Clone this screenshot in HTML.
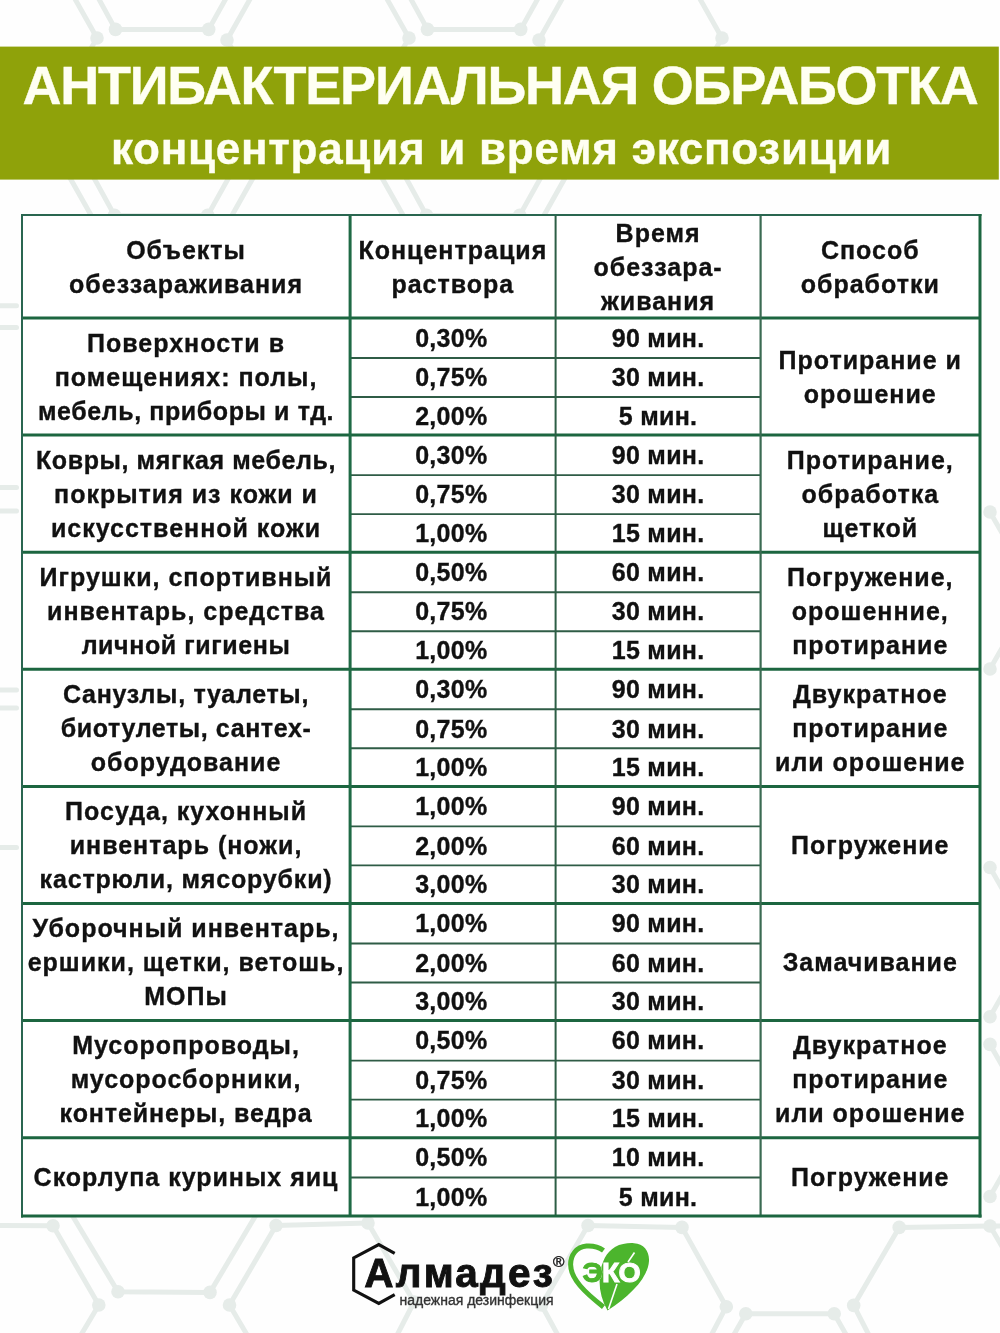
<!DOCTYPE html>
<html lang="ru"><head><meta charset="utf-8"><title>Антибактериальная обработка</title>
<style>
html,body{margin:0;padding:0}
body{width:1000px;height:1333px;position:relative;overflow:hidden;filter:blur(0.4px);background:#fefefe;font-family:"Liberation Sans",Arial,sans-serif}
#bg{position:absolute;left:0;top:0}
.banner{position:absolute;left:0;top:47px;width:999px;height:132px;background:#8fa20a}
.title{position:absolute;left:0;width:1000px;text-align:center;color:#fffff2;-webkit-text-stroke:0.4px #fffff2;font-weight:bold;white-space:nowrap}
.t1{top:56.5px;font-size:54px;line-height:56px;letter-spacing:-1.25px}
.t2{top:123.5px;left:1.5px;font-size:44px;line-height:50px;letter-spacing:0.73px}
.tbl{position:absolute;left:22px;top:215px;width:958px;height:1001px;background:#fff}
.c{position:absolute;display:flex;-webkit-text-stroke:0.35px #111;align-items:center;justify-content:center;text-align:center;font-weight:bold;color:#111;font-size:25px;line-height:34px;box-sizing:border-box}
.t{letter-spacing:1px}
.n{letter-spacing:0.3px}
#grid{position:absolute;left:0;top:0}
.logo{position:absolute;left:0;top:0}
</style></head><body>
<svg id="bg" width="1000" height="1333" viewBox="0 0 1000 1333"><g fill="none" stroke="#e6ece9" stroke-width="5" stroke-linejoin="round" stroke-linecap="round"><polyline points="53.0,-40.0 97.0,38.0 75.0,76.0"/><polyline points="72.0,-50.0 115.5,29.4 208.7,29.4 253.0,-50.0"/><polyline points="272.0,-40.0 227.0,40.0 249.0,78.0"/><polyline points="365.0,-40.0 409.0,38.0 387.0,76.0"/><polyline points="384.0,-50.0 427.5,29.4 520.7,29.4 565.0,-50.0"/><polyline points="584.0,-40.0 539.0,40.0 561.0,78.0"/><polyline points="678.0,-40.0 722.0,38.0 700.0,76.0"/><polyline points="52.0,146.0 96.0,224.0 74.0,262.0"/><polyline points="71.0,136.0 114.5,215.4 207.7,215.4 252.0,136.0"/><polyline points="271.0,146.0 226.0,226.0 248.0,264.0"/><polyline points="364.0,146.0 408.0,224.0 386.0,262.0"/><polyline points="383.0,136.0 426.5,215.4 519.7,215.4 564.0,136.0"/><polyline points="583.0,146.0 538.0,226.0 560.0,264.0"/><polyline points="-5.0,305.7 16.5,305.7"/><polyline points="-5.0,327.5 16.5,327.5"/><polyline points="-5.0,487.5 16.5,487.5"/><polyline points="-5.0,511.0 16.5,511.0"/><polyline points="-5.0,690.0 16.5,690.0"/><polyline points="-5.0,708.0 16.5,708.0"/><polyline points="-5.0,847.5 16.5,847.5"/><polyline points="990.0,512.0 1010.0,547.0"/><polyline points="990.0,669.0 1010.0,634.0"/><polyline points="990.0,867.5 1010.0,902.5"/><polyline points="990.0,1016.7 1010.0,981.7"/><polyline points="990.0,1044.4 1010.0,1079.4"/><polyline points="990.0,1196.5 1010.0,1161.5"/><polyline points="-10.0,1225.5 53.0,1225.8 98.8,1305.0 72.0,1350.0"/><polyline points="66.0,1205.0 118.0,1291.8 210.0,1292.4 262.0,1205.0"/><polyline points="368.0,1223.0 276.0,1225.5 229.5,1305.0 256.0,1350.0"/><polyline points="368.0,1223.0 414.0,1302.0 392.0,1345.0"/><polyline points="588.0,1225.5 682.0,1227.4"/><polyline points="588.0,1225.5 541.5,1305.0 566.0,1350.0"/><polyline points="682.0,1227.4 726.3,1306.7 706.0,1345.0"/><polyline points="728.0,1345.0 745.8,1313.7 834.2,1313.7 852.0,1345.0"/><polyline points="874.0,1345.0 853.7,1305.4 899.2,1227.4 990.0,1226.0 1010.0,1226.0"/><polyline points="990.0,1226.0 1010.0,1260.0"/></g><g fill="#e6ece9"><circle cx="97.0" cy="38.0" r="6.8"/><circle cx="115.5" cy="29.4" r="6.8"/><circle cx="208.7" cy="29.4" r="6.8"/><circle cx="227.0" cy="40.0" r="6.8"/><circle cx="409.0" cy="38.0" r="6.8"/><circle cx="427.5" cy="29.4" r="6.8"/><circle cx="520.7" cy="29.4" r="6.8"/><circle cx="539.0" cy="40.0" r="6.8"/><circle cx="722.0" cy="38.0" r="6.8"/><circle cx="96.0" cy="224.0" r="6.8"/><circle cx="114.5" cy="215.4" r="6.8"/><circle cx="207.7" cy="215.4" r="6.8"/><circle cx="226.0" cy="226.0" r="6.8"/><circle cx="408.0" cy="224.0" r="6.8"/><circle cx="426.5" cy="215.4" r="6.8"/><circle cx="519.7" cy="215.4" r="6.8"/><circle cx="538.0" cy="226.0" r="6.8"/><circle cx="990.0" cy="512.0" r="6.8"/><circle cx="990.0" cy="669.0" r="6.8"/><circle cx="990.0" cy="867.5" r="6.8"/><circle cx="990.0" cy="1016.7" r="6.8"/><circle cx="990.0" cy="1044.4" r="6.8"/><circle cx="990.0" cy="1196.5" r="6.8"/><circle cx="53.0" cy="1225.8" r="6.8"/><circle cx="98.8" cy="1305.0" r="6.8"/><circle cx="118.0" cy="1291.8" r="6.8"/><circle cx="210.0" cy="1292.4" r="6.8"/><circle cx="276.0" cy="1225.5" r="6.8"/><circle cx="229.5" cy="1305.0" r="6.8"/><circle cx="368.0" cy="1223.0" r="6.8"/><circle cx="414.0" cy="1302.0" r="6.8"/><circle cx="588.0" cy="1225.5" r="6.8"/><circle cx="541.5" cy="1305.0" r="6.8"/><circle cx="682.0" cy="1227.4" r="6.8"/><circle cx="726.3" cy="1306.7" r="6.8"/><circle cx="745.8" cy="1313.7" r="6.8"/><circle cx="834.2" cy="1313.7" r="6.8"/><circle cx="853.7" cy="1305.4" r="6.8"/><circle cx="899.2" cy="1227.4" r="6.8"/><circle cx="990.0" cy="1226.0" r="6.8"/></g></svg>
<svg style="position:absolute;left:0;top:0" width="1000" height="200"><rect x="0" y="46.6" width="998.8" height="133" fill="#8fa20a"/></svg>
<div class="title t1">АНТИБАКТЕРИАЛЬНАЯ ОБРАБОТКА</div>
<div class="title t2">концентрация и время экспозиции</div>
<div class="tbl"></div>
<div class="c t h" style="left:22.00px;top:215.00px;width:328.10px;height:103.00px"><div>Объекты<br>обеззараживания</div></div>
<div class="c t h" style="left:350.10px;top:215.00px;width:205.50px;height:103.00px"><div>Концентрация<br>раствора</div></div>
<div class="c t h" style="left:555.60px;top:215.00px;width:205.00px;height:103.00px"><div>Время<br>обеззара-<br>живания</div></div>
<div class="c t h" style="left:760.60px;top:215.00px;width:219.40px;height:103.00px"><div>Способ<br>обработки</div></div>
<div class="c t" style="left:22.00px;top:318.00px;width:328.10px;height:117.10px"><div>Поверхности в<br>помещениях: полы,<br><span style='letter-spacing:0.6px'>мебель, приборы и тд.</span></div></div>
<div class="c t" style="left:760.60px;top:318.00px;width:219.40px;height:117.10px"><div>Протирание и<br>орошение</div></div>
<div class="c n" style="left:348.60px;top:318.00px;width:205.50px;height:39.70px"><div>0,30%</div></div>
<div class="c n" style="left:555.60px;top:318.00px;width:205.00px;height:39.70px"><div>90 мин.</div></div>
<div class="c n" style="left:348.60px;top:357.70px;width:205.50px;height:39.00px"><div>0,75%</div></div>
<div class="c n" style="left:555.60px;top:357.70px;width:205.00px;height:39.00px"><div>30 мин.</div></div>
<div class="c n" style="left:348.60px;top:396.70px;width:205.50px;height:38.40px"><div>2,00%</div></div>
<div class="c n" style="left:555.60px;top:396.70px;width:205.00px;height:38.40px"><div>5 мин.</div></div>
<div class="c t" style="left:22.00px;top:435.10px;width:328.10px;height:117.10px"><div><span style='letter-spacing:0.6px'>Ковры, мягкая мебель,</span><br>покрытия из кожи и<br>искусственной кожи</div></div>
<div class="c t" style="left:760.60px;top:435.10px;width:219.40px;height:117.10px"><div>Протирание,<br>обработка<br>щеткой</div></div>
<div class="c n" style="left:348.60px;top:435.10px;width:205.50px;height:39.70px"><div>0,30%</div></div>
<div class="c n" style="left:555.60px;top:435.10px;width:205.00px;height:39.70px"><div>90 мин.</div></div>
<div class="c n" style="left:348.60px;top:474.80px;width:205.50px;height:39.00px"><div>0,75%</div></div>
<div class="c n" style="left:555.60px;top:474.80px;width:205.00px;height:39.00px"><div>30 мин.</div></div>
<div class="c n" style="left:348.60px;top:513.80px;width:205.50px;height:38.40px"><div>1,00%</div></div>
<div class="c n" style="left:555.60px;top:513.80px;width:205.00px;height:38.40px"><div>15 мин.</div></div>
<div class="c t" style="left:22.00px;top:552.20px;width:328.10px;height:117.10px"><div>Игрушки, спортивный<br>инвентарь, средства<br><span style='letter-spacing:0.6px'>личной гигиены</span></div></div>
<div class="c t" style="left:760.60px;top:552.20px;width:219.40px;height:117.10px"><div>Погружение,<br>орошенние,<br>протирание</div></div>
<div class="c n" style="left:348.60px;top:552.20px;width:205.50px;height:39.70px"><div>0,50%</div></div>
<div class="c n" style="left:555.60px;top:552.20px;width:205.00px;height:39.70px"><div>60 мин.</div></div>
<div class="c n" style="left:348.60px;top:591.90px;width:205.50px;height:39.00px"><div>0,75%</div></div>
<div class="c n" style="left:555.60px;top:591.90px;width:205.00px;height:39.00px"><div>30 мин.</div></div>
<div class="c n" style="left:348.60px;top:630.90px;width:205.50px;height:38.40px"><div>1,00%</div></div>
<div class="c n" style="left:555.60px;top:630.90px;width:205.00px;height:38.40px"><div>15 мин.</div></div>
<div class="c t" style="left:22.00px;top:669.30px;width:328.10px;height:117.10px"><div><span style='letter-spacing:0.7px'>Санузлы, туалеты,</span><br><span style='letter-spacing:0.6px'>биотулеты, сантех-</span><br>оборудование</div></div>
<div class="c t" style="left:760.60px;top:669.30px;width:219.40px;height:117.10px"><div>Двукратное<br>протирание<br>или орошение</div></div>
<div class="c n" style="left:348.60px;top:669.30px;width:205.50px;height:39.70px"><div>0,30%</div></div>
<div class="c n" style="left:555.60px;top:669.30px;width:205.00px;height:39.70px"><div>90 мин.</div></div>
<div class="c n" style="left:348.60px;top:709.00px;width:205.50px;height:39.00px"><div>0,75%</div></div>
<div class="c n" style="left:555.60px;top:709.00px;width:205.00px;height:39.00px"><div>30 мин.</div></div>
<div class="c n" style="left:348.60px;top:748.00px;width:205.50px;height:38.40px"><div>1,00%</div></div>
<div class="c n" style="left:555.60px;top:748.00px;width:205.00px;height:38.40px"><div>15 мин.</div></div>
<div class="c t" style="left:22.00px;top:786.40px;width:328.10px;height:117.10px"><div>Посуда, кухонный<br>инвентарь (ножи,<br><span style='letter-spacing:0.82px'>кастрюли, мясорубки)</span></div></div>
<div class="c t" style="left:760.60px;top:786.40px;width:219.40px;height:117.10px"><div>Погружение</div></div>
<div class="c n" style="left:348.60px;top:786.40px;width:205.50px;height:39.70px"><div>1,00%</div></div>
<div class="c n" style="left:555.60px;top:786.40px;width:205.00px;height:39.70px"><div>90 мин.</div></div>
<div class="c n" style="left:348.60px;top:826.10px;width:205.50px;height:39.00px"><div>2,00%</div></div>
<div class="c n" style="left:555.60px;top:826.10px;width:205.00px;height:39.00px"><div>60 мин.</div></div>
<div class="c n" style="left:348.60px;top:865.10px;width:205.50px;height:38.40px"><div>3,00%</div></div>
<div class="c n" style="left:555.60px;top:865.10px;width:205.00px;height:38.40px"><div>30 мин.</div></div>
<div class="c t" style="left:22.00px;top:903.50px;width:328.10px;height:117.10px"><div>Уборочный инвентарь,<br>ершики, щетки, ветошь,<br>МОПы</div></div>
<div class="c t" style="left:760.60px;top:903.50px;width:219.40px;height:117.10px"><div>Замачивание</div></div>
<div class="c n" style="left:348.60px;top:903.50px;width:205.50px;height:39.70px"><div>1,00%</div></div>
<div class="c n" style="left:555.60px;top:903.50px;width:205.00px;height:39.70px"><div>90 мин.</div></div>
<div class="c n" style="left:348.60px;top:943.20px;width:205.50px;height:39.00px"><div>2,00%</div></div>
<div class="c n" style="left:555.60px;top:943.20px;width:205.00px;height:39.00px"><div>60 мин.</div></div>
<div class="c n" style="left:348.60px;top:982.20px;width:205.50px;height:38.40px"><div>3,00%</div></div>
<div class="c n" style="left:555.60px;top:982.20px;width:205.00px;height:38.40px"><div>30 мин.</div></div>
<div class="c t" style="left:22.00px;top:1020.60px;width:328.10px;height:117.10px"><div>Мусоропроводы,<br>мусоросборники,<br><span style='letter-spacing:0.9px'>контейнеры, ведра</span></div></div>
<div class="c t" style="left:760.60px;top:1020.60px;width:219.40px;height:117.10px"><div>Двукратное<br>протирание<br>или орошение</div></div>
<div class="c n" style="left:348.60px;top:1020.60px;width:205.50px;height:39.70px"><div>0,50%</div></div>
<div class="c n" style="left:555.60px;top:1020.60px;width:205.00px;height:39.70px"><div>60 мин.</div></div>
<div class="c n" style="left:348.60px;top:1060.30px;width:205.50px;height:39.00px"><div>0,75%</div></div>
<div class="c n" style="left:555.60px;top:1060.30px;width:205.00px;height:39.00px"><div>30 мин.</div></div>
<div class="c n" style="left:348.60px;top:1099.30px;width:205.50px;height:38.40px"><div>1,00%</div></div>
<div class="c n" style="left:555.60px;top:1099.30px;width:205.00px;height:38.40px"><div>15 мин.</div></div>
<div class="c t" style="left:22.00px;top:1137.70px;width:328.10px;height:78.30px"><div>Скорлупа куриных яиц</div></div>
<div class="c t" style="left:760.60px;top:1137.70px;width:219.40px;height:78.30px"><div>Погружение</div></div>
<div class="c n" style="left:348.60px;top:1137.70px;width:205.50px;height:39.50px"><div>0,50%</div></div>
<div class="c n" style="left:555.60px;top:1137.70px;width:205.00px;height:39.50px"><div>10 мин.</div></div>
<div class="c n" style="left:348.60px;top:1177.20px;width:205.50px;height:38.80px"><div>1,00%</div></div>
<div class="c n" style="left:555.60px;top:1177.20px;width:205.00px;height:38.80px"><div>5 мин.</div></div>

<svg id="grid" width="1000" height="1333" viewBox="0 0 1000 1333">
<line x1="350.1" y1="358.00" x2="760.6" y2="358.00" stroke="#2f5c46" stroke-width="1.9"/>
<line x1="350.1" y1="397.00" x2="760.6" y2="397.00" stroke="#2f5c46" stroke-width="1.9"/>
<line x1="350.1" y1="475.10" x2="760.6" y2="475.10" stroke="#2f5c46" stroke-width="1.9"/>
<line x1="350.1" y1="514.10" x2="760.6" y2="514.10" stroke="#2f5c46" stroke-width="1.9"/>
<line x1="22" y1="435.10" x2="980" y2="435.10" stroke="#1c6640" stroke-width="3"/>
<line x1="350.1" y1="592.20" x2="760.6" y2="592.20" stroke="#2f5c46" stroke-width="1.9"/>
<line x1="350.1" y1="631.20" x2="760.6" y2="631.20" stroke="#2f5c46" stroke-width="1.9"/>
<line x1="22" y1="552.20" x2="980" y2="552.20" stroke="#1c6640" stroke-width="3"/>
<line x1="350.1" y1="709.30" x2="760.6" y2="709.30" stroke="#2f5c46" stroke-width="1.9"/>
<line x1="350.1" y1="748.30" x2="760.6" y2="748.30" stroke="#2f5c46" stroke-width="1.9"/>
<line x1="22" y1="669.30" x2="980" y2="669.30" stroke="#1c6640" stroke-width="3"/>
<line x1="350.1" y1="826.40" x2="760.6" y2="826.40" stroke="#2f5c46" stroke-width="1.9"/>
<line x1="350.1" y1="865.40" x2="760.6" y2="865.40" stroke="#2f5c46" stroke-width="1.9"/>
<line x1="22" y1="786.40" x2="980" y2="786.40" stroke="#1c6640" stroke-width="3"/>
<line x1="350.1" y1="943.50" x2="760.6" y2="943.50" stroke="#2f5c46" stroke-width="1.9"/>
<line x1="350.1" y1="982.50" x2="760.6" y2="982.50" stroke="#2f5c46" stroke-width="1.9"/>
<line x1="22" y1="903.50" x2="980" y2="903.50" stroke="#1c6640" stroke-width="3"/>
<line x1="350.1" y1="1060.60" x2="760.6" y2="1060.60" stroke="#2f5c46" stroke-width="1.9"/>
<line x1="350.1" y1="1099.60" x2="760.6" y2="1099.60" stroke="#2f5c46" stroke-width="1.9"/>
<line x1="22" y1="1020.60" x2="980" y2="1020.60" stroke="#1c6640" stroke-width="3"/>
<line x1="350.1" y1="1177.50" x2="760.6" y2="1177.50" stroke="#2f5c46" stroke-width="1.9"/>
<line x1="22" y1="1137.70" x2="980" y2="1137.70" stroke="#1c6640" stroke-width="3"/>
<line x1="22" y1="318.00" x2="980" y2="318.00" stroke="#1c6640" stroke-width="3"/>
<line x1="350.10" y1="215" x2="350.10" y2="1216.0" stroke="#1f6a45" stroke-width="3"/>
<line x1="555.60" y1="215" x2="555.60" y2="1216.0" stroke="#2d5e45" stroke-width="2"/>
<line x1="760.60" y1="215" x2="760.60" y2="1216.0" stroke="#3a6b52" stroke-width="2.2"/>
<line x1="21" y1="215.00" x2="981.5" y2="215.00" stroke="#2a6650" stroke-width="2"/>
<line x1="22.00" y1="214" x2="22.00" y2="1217.5" stroke="#2a6650" stroke-width="2"/>
<line x1="980.00" y1="214" x2="980.00" y2="1217.5" stroke="#1c6640" stroke-width="3"/>
<line x1="21" y1="1216.00" x2="981.5" y2="1216.00" stroke="#1c6640" stroke-width="3"/>
</svg>
<svg class="logo" width="1000" height="1333" viewBox="0 0 1000 1333" style="position:absolute;left:0;top:0">
<g fill="none" stroke="#111" stroke-width="3.1" stroke-linejoin="miter">
<polyline points="394.7,1253.3 378.8,1244.6 353.7,1257.9 353.7,1290.1 378.8,1303.4 394.7,1294.6"/>
</g>
<text x="364.2" y="1287" font-family="Liberation Sans, Arial, sans-serif" font-weight="bold" font-size="40.5" letter-spacing="2.25" fill="#111" stroke="#111" stroke-width="0.9">Алмадез</text>
<text x="399.5" y="1305" font-family="Liberation Sans, Arial, sans-serif" font-size="14" fill="#333" stroke="#333" stroke-width="0.35">надежная дезинфекция</text>
<text x="553" y="1266.6" font-family="Liberation Sans, Arial, sans-serif" font-size="15.5" fill="#222" stroke="#222" stroke-width="0.5">®</text>
<g>
<path d="M603.5,1250.5 C598,1246.5 592,1245.6 586.5,1246 C576.5,1246.8 570.6,1255 570.6,1264.5 C570.6,1279 585,1292.5 603.5,1307" fill="none" stroke="#4cb52d" stroke-width="5" stroke-linecap="butt"/>
<path d="M607.5,1310.5 C601,1299 598.5,1287 600,1275 C601.5,1262 606,1252.5 615,1247 C621,1243.8 628,1242.8 634,1243.2 C644,1244 649.5,1251 649,1261 C648,1278 630,1296 607.5,1310.5 Z" fill="#4cb52d"/>
<line x1="634.5" y1="1252.5" x2="628" y2="1262" stroke="#fff" stroke-width="1.6"/>
<line x1="617" y1="1284" x2="608.5" y2="1309" stroke="#fff" stroke-width="1.6"/>
<text x="582.5" y="1281.7" font-family="Liberation Sans, Arial, sans-serif" font-weight="bold" font-size="28.5" fill="#4cb52d" stroke="#fff" stroke-width="1.2" paint-order="stroke">Э</text>
<text x="582.5" y="1281.7" font-family="Liberation Sans, Arial, sans-serif" font-weight="bold" font-size="28.5" fill="#4cb52d" stroke="#4cb52d" stroke-width="1">Э</text>
<text x="602" y="1281.7" font-family="Liberation Sans, Arial, sans-serif" font-weight="bold" font-size="28.5" fill="#fff" stroke="#fff" stroke-width="1" letter-spacing="-1">КО</text>
</g>
</svg>

</body></html>
